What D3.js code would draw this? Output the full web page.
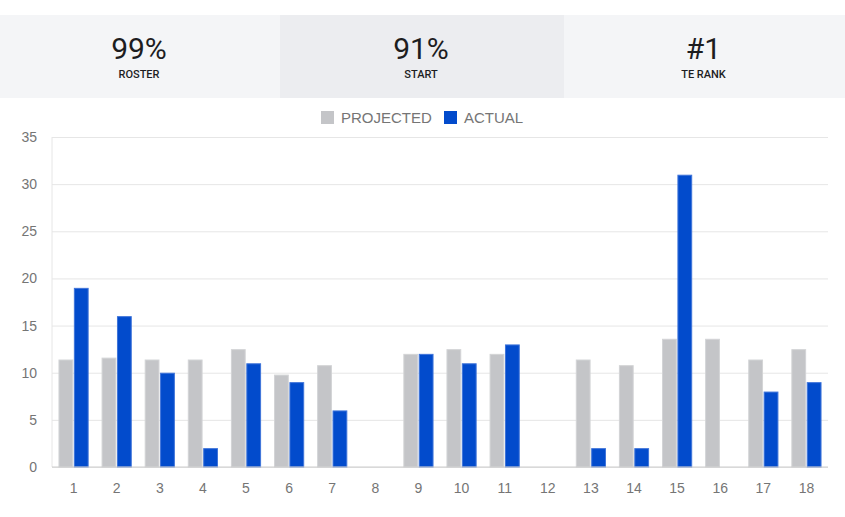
<!DOCTYPE html>
<html>
<head>
<meta charset="utf-8">
<script src="https://cdn.jsdelivr.net/npm/d3@7"></script>
<style>
  body { margin: 0; background: #fff; }
  #chart { width: 845px; height: 517px; }
</style>
</head>
<body>
<div id="chart"></div>
<script>
// Summary tiles above the chart
const statValues = ["99%", "91%", "#1"];
const statLabels = ["ROSTER", "START", "TE RANK"];

// Weekly points
const weeks = ["1", "2", "3", "4", "5", "6", "7", "8", "9", "10", "11", "12", "13", "14", "15", "16", "17", "18"];
const projected = [11.4, 11.6, 11.4, 11.4, 12.5, 9.8, 10.8, 0, 12, 12.5, 12, 0, 11.4, 10.8, 13.6, 13.6, 11.4, 12.5];
const actual = [19, 16, 10, 2, 11, 9, 6, 0, 12, 11, 13, 0, 2, 2, 31, 0, 8, 9];
const seriesNames = ["PROJECTED", "ACTUAL"];
const yTicks = [0, 5, 10, 15, 20, 25, 30, 35];

const width = 845;
const height = 517;
const margin = { top: 137, right: 17, bottom: 50, left: 52 };

const svg = d3
  .select("#chart")
  .append("svg")
  .attr("width", width)
  .attr("height", height);

// Tiles
const tileEdges = [0, 280, 564, width];
const tileFill = ["#f4f5f7", "#ecedf0", "#f4f5f7"];

const tiles = svg
  .append("g")
  .selectAll("g")
  .data(statValues)
  .join("g");

tiles
  .append("rect")
  .attr("x", (d, i) => tileEdges[i])
  .attr("y", 15)
  .attr("width", (d, i) => tileEdges[i + 1] - tileEdges[i])
  .attr("height", 83)
  .attr("fill", (d, i) => tileFill[i]);

tiles
  .append("text")
  .attr("x", (d, i) => (tileEdges[i] + tileEdges[i + 1]) / 2 - 1)
  .attr("y", 58.5)
  .attr("text-anchor", "middle")
  .attr("font-family", "Roboto, sans-serif")
  .attr("font-size", 30)
  .attr("fill", "#1d1d1f")
  .text((d) => d);

tiles
  .append("text")
  .attr("x", (d, i) => (tileEdges[i] + tileEdges[i + 1]) / 2 - 1)
  .attr("y", 77.5)
  .attr("text-anchor", "middle")
  .attr("font-family", "Roboto, sans-serif")
  .attr("font-size", 11)
  .attr("font-weight", 500)
  .attr("fill", "#1d1d1f")
  .text((d, i) => statLabels[i]);

// Scales
const x = d3
  .scaleBand()
  .domain(weeks)
  .range([margin.left, width - margin.right])
  .paddingInner(0.3)
  .paddingOuter(0.15);

const xSub = d3
  .scaleBand()
  .domain(seriesNames)
  .range([0, x.bandwidth()])
  .paddingInner(0.04);

const y = d3
  .scaleLinear()
  .domain([0, 35])
  .range([height - margin.bottom, margin.top]);

const color = d3.scaleOrdinal().domain(seriesNames).range(["#c4c5c8", "#024bcc"]);
const edge = d3.scaleOrdinal().domain(seriesNames).range(["#d3d4d6", "#3f74d9"]);

// Gridlines + y labels
svg
  .append("g")
  .attr("transform", `translate(${margin.left},0)`)
  .call(
    d3.axisLeft(y)
      .tickValues(yTicks)
      .tickSize(-(width - margin.left - margin.right))
      .tickPadding(15)
  )
  .call((g) => g.select(".domain").remove())
  .call((g) => g.selectAll(".tick line").attr("stroke", "#e6e6e6"))
  .call((g) =>
    g.selectAll(".tick text")
      .attr("fill", "#757575")
      .attr("font-family", "Arial, 'Liberation Sans', sans-serif")
      .attr("font-size", 14)
  );

// Left vertical line
svg
  .append("line")
  .attr("x1", margin.left)
  .attr("x2", margin.left)
  .attr("y1", y(35))
  .attr("y2", y(0))
  .attr("stroke", "#e6e6e6");

// Bars
const rows = weeks.map((w, i) => ({ week: w, values: [projected[i], actual[i]] }));

svg
  .append("g")
  .selectAll("g")
  .data(rows)
  .join("g")
  .attr("transform", (d) => `translate(${x(d.week)},0)`)
  .selectAll("rect")
  .data((d) => d.values.map((v, j) => ({ key: seriesNames[j], value: v })))
  .join("rect")
  .filter((d) => d.value > 0)
  .attr("x", (d) => xSub(d.key) + 0.5)
  .attr("y", (d) => y(d.value) + 0.5)
  .attr("width", xSub.bandwidth() - 1)
  .attr("height", (d) => y(0) - y(d.value) - 0.5)
  .attr("fill", (d) => color(d.key))
  .attr("stroke", (d) => edge(d.key))
  .attr("stroke-width", 1);

// Baseline
svg
  .append("line")
  .attr("x1", margin.left)
  .attr("x2", width - margin.right)
  .attr("y1", y(0))
  .attr("y2", y(0))
  .attr("stroke", "#cccccc");

// X labels
svg
  .append("g")
  .attr("transform", `translate(0,${y(0)})`)
  .call(d3.axisBottom(x).tickSize(0).tickPadding(16))
  .call((g) => g.select(".domain").remove())
  .call((g) =>
    g.selectAll(".tick text")
      .attr("fill", "#757575")
      .attr("font-family", "Arial, 'Liberation Sans', sans-serif")
      .attr("font-size", 14)
  );

// Legend
const legend = svg.append("g").attr("transform", "translate(321,111)");
const legendX = [0, 123];
const li = legend
  .selectAll("g")
  .data(seriesNames)
  .join("g")
  .attr("transform", (d, i) => `translate(${legendX[i]},0)`);
li.append("rect")
  .attr("width", 13)
  .attr("height", 13)
  .attr("fill", (d) => color(d));
li.append("text")
  .attr("x", 20)
  .attr("y", 12)
  .attr("fill", "#757575")
  .attr("font-family", "Arial, 'Liberation Sans', sans-serif")
  .attr("font-size", 15)
  .text((d) => d);
</script>
</body>
</html>
